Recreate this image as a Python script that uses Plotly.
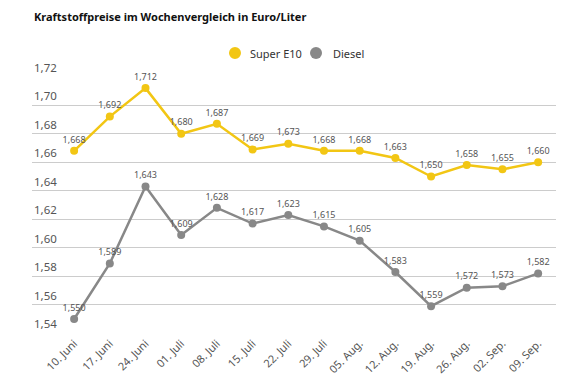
import plotly.graph_objects as go

weeks = ["10. Juni", "17. Juni", "24. Juni", "01. Juli", "08. Juli", "15. Juli", "22. Juli",
         "29. Juli", "05. Aug.", "12. Aug.", "19. Aug.", "26. Aug.", "02. Sep.", "09. Sep."]
super_e10 = [1.668, 1.692, 1.712, 1.680, 1.687, 1.669, 1.673, 1.668, 1.668, 1.663, 1.650, 1.658, 1.655, 1.660]
diesel = [1.550, 1.589, 1.643, 1.609, 1.628, 1.617, 1.623, 1.615, 1.605, 1.583, 1.559, 1.572, 1.573, 1.582]
y_ticks = [1.54, 1.56, 1.58, 1.60, 1.62, 1.64, 1.66, 1.68, 1.70, 1.72]
series_names = ["Super E10", "Diesel"]

FONT = "Noto Sans"
YELLOW = "#F2C614"
GRAY = "#888888"
COLORS = [YELLOW, GRAY]

def fmt(v):
    return f"{v:.3f}".replace(".", ",")

fig = go.Figure()
for name, vals, col in zip(series_names, [super_e10, diesel], COLORS):
    fig.add_trace(go.Scatter(
        x=weeks, y=vals, name=name, mode="lines+markers+text",
        line=dict(color=col, width=2.5),
        marker=dict(color=col, size=8),
        text=[fmt(v) for v in vals], textposition="top center",
        textfont=dict(family=FONT, size=9, color="#555555"),
        cliponaxis=False, showlegend=False,
    ))

# y tick labels above the gridlines
for v in y_ticks:
    fig.add_annotation(
        x=0, xref="paper", y=v, yref="y", xanchor="left", yanchor="bottom",
        text=f"{v:.2f}".replace(".", ","), showarrow=False, yshift=0,
        font=dict(family=FONT, size=11.5, color="#555555"),
    )

# custom legend
leg_marker_x = [0.3874, 0.542]
leg_text_x = [0.4122, 0.5706]
leg_y = 1.089
for name, col, mx, tx in zip(series_names, COLORS, leg_marker_x, leg_text_x):
    fig.add_shape(type="circle", xref="paper", yref="paper", xsizemode="pixel", ysizemode="pixel",
                  xanchor=mx, yanchor=leg_y, x0=-6, x1=6, y0=-6, y1=6,
                  fillcolor=col, line=dict(width=0))
    fig.add_annotation(x=tx, xref="paper", y=leg_y, yref="paper", xanchor="left", yanchor="middle",
                       text=name, showarrow=False,
                       font=dict(family=FONT, size=11, color="#333333"))

# title
fig.add_annotation(x=24 / 580, xref="paper", y=1, yref="paper", xanchor="left", yanchor="top",
                   text="<b>Kraftstoffpreise im Wochenvergleich in Euro/Liter</b>", showarrow=False,
                   font=dict(family=FONT, size=11, color="#111111"))

fig.update_layout(
    width=580, height=387,
    margin=dict(l=24, r=32, t=68, b=61),
    paper_bgcolor="white", plot_bgcolor="white",
    separators=",.",
    font=dict(family=FONT, color="#555555"),
    showlegend=False,
)
# place title annotation at the very top of the page
fig.layout.annotations[-1].update(x=0, xref="paper", y=1 + 68 / 258, yref="paper", yshift=1)

fig.update_xaxes(
    type="category", range=[-1.18, 13.5], showgrid=False, showline=False, zeroline=False,
    tickangle=-45, tickfont=dict(family=FONT, size=11, color="#555555"), ticks="",
)
fig.update_yaxes(
    range=[1.5395, 1.7205], tickvals=y_ticks, showticklabels=False,
    showgrid=True, gridcolor="#cccccc", gridwidth=1, zeroline=False, showline=False,
)
fig.write_html("out.html")
